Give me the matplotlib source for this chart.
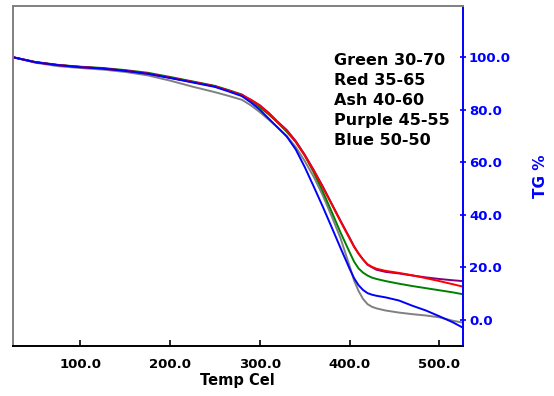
import matplotlib
matplotlib.use("Agg")
import matplotlib.pyplot as plt
from matplotlib.ticker import FixedLocator, FuncFormatter

# ---------------- data ----------------
temp = [25, 50, 75, 100, 125, 150, 175, 200, 225, 250, 265, 280, 290, 300, 310,
        320, 330, 340, 350, 360, 370, 380, 390, 400, 405, 410, 415, 420, 425, 430,
        440, 455, 470, 485, 500, 515, 526]

tg_gray = [100.0, 97.9, 96.6, 95.9, 95.3, 94.4, 93.1, 91.1, 88.8, 86.7, 85.3, 83.8,
           81.7, 79.1, 76.2, 73.2, 70.0, 65.8, 60.5, 54.5, 47.5, 39.5, 31.0, 20.5,
           15.0, 11.0, 8.0, 6.0, 5.0, 4.4, 3.6, 2.8, 2.2, 1.7, 1.0, -0.3, -1.0]
tg_green = [100.0, 98.2, 97.1, 96.4, 95.9, 95.1, 94.1, 92.5, 90.8, 89.1, 87.5, 85.8,
            83.5, 80.9, 78.2, 75.1, 71.6, 67.8, 62.6, 56.2, 49.0, 41.2, 33.2, 25.8,
            22.2, 19.6, 18.0, 16.9, 16.1, 15.6, 14.8, 13.8, 12.9, 12.1, 11.3, 10.5, 9.8]
tg_purple = [100.0, 98.1, 97.0, 96.3, 95.7, 94.9, 93.8, 92.2, 90.6, 88.9, 87.3, 85.6,
             83.8, 81.7, 78.8, 75.4, 72.3, 68.1, 62.9, 57.1, 50.9, 44.3, 37.7, 31.3,
             28.0, 25.3, 23.0, 21.0, 20.0, 19.1, 18.3, 17.7, 16.9, 16.2, 15.6, 15.1, 14.8]
tg_red = [100.0, 98.1, 97.0, 96.3, 95.7, 94.9, 93.8, 92.2, 90.6, 88.9, 87.3, 85.6,
          83.8, 81.6, 78.6, 75.1, 72.0, 67.8, 62.6, 56.8, 50.6, 44.0, 37.4, 31.0,
          27.8, 25.2, 23.0, 21.2, 20.2, 19.5, 18.7, 17.9, 17.0, 15.9, 14.8, 13.6, 12.7]
tg_blue = [100.0, 98.1, 97.0, 96.2, 95.7, 94.8, 93.7, 92.1, 90.4, 88.7, 87.0, 85.2,
           82.8, 80.0, 76.6, 73.2, 69.8, 64.9, 58.2, 50.8, 43.2, 35.3, 27.3, 19.5,
           15.9, 13.2, 11.4, 10.2, 9.6, 9.2, 8.6, 7.4, 5.4, 3.6, 1.4, -0.9, -2.9]

x_ticks = [100, 200, 300, 400, 500]
y_ticks = [0, 20, 40, 60, 80, 100]
legend_lines = ["Green 30-70", "Red 35-65", "Ash 40-60", "Purple 45-55", "Blue 50-50"]

# ---------------- figure ----------------
W, H = 554, 396
fig = plt.figure(figsize=(W / 100, H / 100), dpi=100)
ax = fig.add_axes([13 / W, 1 - 345.7 / H, (462.7 - 13) / W, (345.7 - 6) / H])

lw = 1.4
ax.plot(temp, tg_gray, color="#808080", lw=lw)
ax.plot(temp, tg_green, color="#008000", lw=lw)
ax.plot(temp, tg_purple, color="#800080", lw=lw)
ax.plot(temp, tg_red, color="#ff0000", lw=lw)
ax.plot(temp, tg_blue, color="#0000ff", lw=lw)

ax.set_xlim(25, 526)
ax.set_ylim(-9.8, 119.5)

# spines
ax.spines["left"].set_color("#808080")
ax.spines["top"].set_color("#808080")
ax.spines["bottom"].set_color("black")
ax.spines["right"].set_color("#0000ff")
for s in ax.spines.values():
    s.set_linewidth(1.4)

ax.yaxis.tick_right()
ax.yaxis.set_label_position("right")
ax.xaxis.set_major_locator(FixedLocator(x_ticks))
ax.yaxis.set_major_locator(FixedLocator(y_ticks))
fmt = FuncFormatter(lambda v, p: f"{v:.1f}")
ax.xaxis.set_major_formatter(fmt)
ax.yaxis.set_major_formatter(fmt)

ax.tick_params(axis="x", direction="in", length=4, width=1.2, pad=9,
               labelsize=9.5, colors="black", top=False)
ax.tick_params(axis="y", direction="inout", length=4, width=1.2, pad=2.5,
               labelsize=9.5, colors="#0000ff", left=False, right=True)
for lab in ax.get_xticklabels() + ax.get_yticklabels():
    lab.set_fontweight("bold")

ax.set_xlabel("Temp Cel", fontsize=10.5, fontweight="bold", labelpad=1)
ax.set_ylabel("TG %", fontsize=11, fontweight="bold", color="#0000ff", labelpad=16)

# annotation text
for i, t in enumerate(legend_lines):
    fig.text(334.5 / W, 1 - (65 + 20 * i) / H, t, fontsize=11.5, fontweight="bold",
             color="black", ha="left", va="baseline")

fig.savefig("out.png", dpi=100)
